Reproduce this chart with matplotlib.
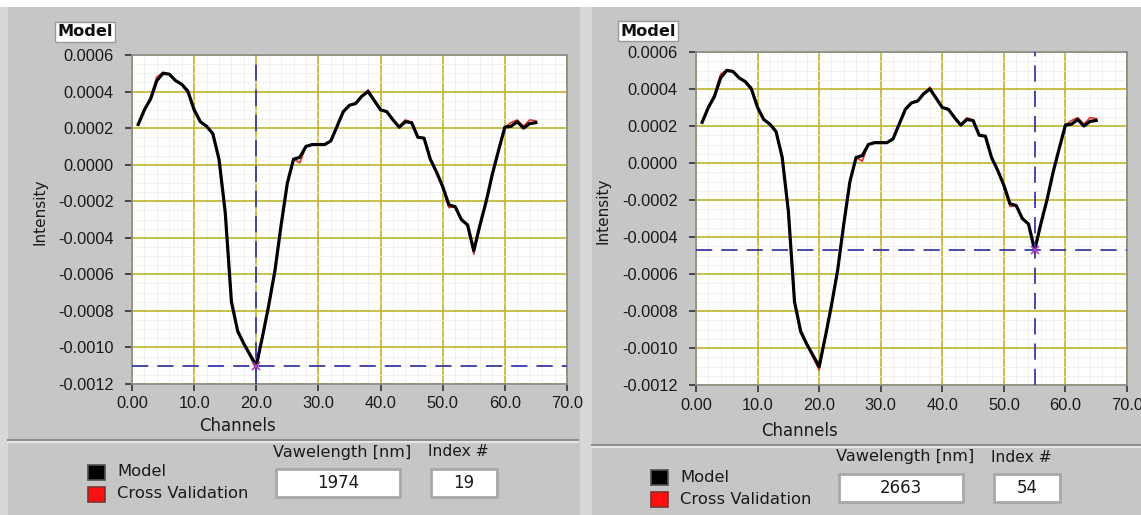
import matplotlib
matplotlib.use("Agg")
import matplotlib.pyplot as plt
from matplotlib.patches import Rectangle
import numpy as np

# channel axis and the two traces (values in 1e-4 intensity units)
channels = list(range(1, 66))
model = [2.2, 3.0, 3.6, 4.6, 5.0, 4.95, 4.6, 4.4, 4.0, 3.0,
         2.35, 2.1, 1.7, 0.3, -2.6, -7.5, -9.1, -9.8, -10.4, -11.0,
         -9.4, -7.7, -5.8, -3.3, -1.0, 0.3, 0.4, 1.0, 1.1, 1.1,
         1.1, 1.3, 2.1, 2.9, 3.25, 3.35, 3.75, 4.0, 3.5, 3.0,
         2.9, 2.45, 2.05, 2.35, 2.3, 1.5, 1.45, 0.3, -0.4, -1.2,
         -2.2, -2.3, -3.0, -3.3, -4.7, -3.3, -2.0, -0.5, 0.8, 2.05,
         2.1, 2.35, 2.0, 2.25, 2.3]
cross_val = [2.2, 3.0, 3.7, 4.8, 5.05, 4.95, 4.6, 4.4, 4.1, 3.0,
             2.35, 2.1, 1.7, 0.3, -2.6, -7.5, -9.2, -9.8, -10.5, -11.2,
             -9.4, -7.7, -5.8, -3.3, -1.0, 0.3, 0.1, 1.0, 1.1, 1.1,
             1.1, 1.3, 2.1, 2.9, 3.25, 3.35, 3.75, 4.1, 3.5, 3.0,
             2.9, 2.45, 2.1, 2.45, 2.3, 1.5, 1.45, 0.3, -0.4, -1.3,
             -2.35, -2.3, -3.0, -3.3, -4.9, -3.3, -2.0, -0.5, 0.8, 2.05,
             2.3, 2.45, 2.1, 2.45, 2.4]

x_ticks = [0, 10, 20, 30, 40, 50, 60, 70]
x_labels = ["0.00", "10.0", "20.0", "30.0", "40.0", "50.0", "60.0", "70.0"]
y_ticks = [0.0006, 0.0004, 0.0002, 0.0, -0.0002, -0.0004, -0.0006,
           -0.0008, -0.0010, -0.0012]
y_labels = ["0.0006", "0.0004", "0.0002", "0.0000", "-0.0002", "-0.0004",
            "-0.0006", "-0.0008", "-0.0010", "-0.0012"]

cursor_index = [19, 54]
wavelengths = [1974, 2663]

W, H = 1141, 515
GRAY = "#c6c6c6"
GRID = "#bdb52a"
CURSOR = "#3a3aa8"
TXT = "#1a1a1a"

fig = plt.figure(figsize=(W / 100, H / 100), dpi=100, facecolor=GRAY)

# background layer in pixel coordinates for the panel decorations
bg = fig.add_axes([0, 0, 1, 1], zorder=0)
bg.set_xlim(0, W)
bg.set_ylim(H, 0)
bg.axis("off")

bg.add_patch(Rectangle((0, 0), W, 7, color="white", lw=0))
bg.add_patch(Rectangle((0, 7), 8, H, color="#d8d8d8", lw=0))
bg.add_patch(Rectangle((580, 7), 12, H, color="#d8d8d8", lw=0))

panels = [
    dict(box=(132, 55, 567, 384), dx=0, dy=0, sep=440, sx=(8, 578)),
    dict(box=(696, 52, 1127, 385), dx=563, dy=5, sep=445, sx=(592, W)),
]

xs = np.array(channels)
m = np.array(model) * 1e-4
cv = np.array(cross_val) * 1e-4

for i, p in enumerate(panels):
    l, t, r, b = p["box"]
    ax = fig.add_axes([l / W, 1 - b / H, (r - l) / W, (b - t) / H], zorder=1)
    ax.set_facecolor("white")
    ax.set_xlim(0, 70)
    ax.set_ylim(-0.0012, 0.0006)

    ax.set_xticks(np.arange(0, 71, 2), minor=True)
    ax.set_yticks(np.arange(-0.0012, 0.00061, 0.00005), minor=True)
    ax.grid(which="minor", color="#eeeeee", lw=0.6)
    ax.grid(which="major", color=GRID, lw=1.2)
    ax.set_xticks(x_ticks, x_labels)
    ax.set_yticks(y_ticks, y_labels)
    ax.tick_params(which="minor", length=0)
    ax.tick_params(which="major", direction="out", length=5, width=1.2,
                   color="#303030", labelsize=11.8, labelcolor=TXT)
    ax.tick_params(axis="y", pad=8)
    ax.tick_params(axis="x", pad=4)
    for lab in ax.get_xticklabels() + ax.get_yticklabels():
        lab.set_family("Liberation Sans")
    for s in ax.spines.values():
        s.set_color("#8a8a8a")
        s.set_linewidth(1.2)

    ax.plot(xs, cv, color="#e03030", lw=1.2, zorder=3)
    ax.plot(xs, m, color="black", lw=2.3, zorder=4)

    ci = cursor_index[i]
    cx, cy = channels[ci], model[ci] * 1e-4
    ax.axvline(cx, color=CURSOR, lw=1.3, ls=(0, (9, 5)), zorder=5)
    ax.axhline(cy, color=CURSOR, lw=1.3, ls=(0, (9, 5)), zorder=5)
    ax.plot([cx], [cy], marker="x", color="#b040c0", ms=6, mew=1.2, zorder=6)

    dx, dy = p["dx"], p["dy"]

    # plot name tag
    tag_y = 22 - (1 if i else 0)
    bg.add_patch(Rectangle((55 + dx, tag_y), 60, 20, facecolor="white",
                           edgecolor="#9a9a9a", lw=1))
    bg.text(85 + dx, tag_y + 10, "Model", ha="center", va="center",
            fontsize=11.6, fontweight="bold", color="#101010")

    # axis titles
    bg.text(40 + dx, (t + b) / 2 - 8, "Intensity", rotation=90, ha="center",
            va="center", fontsize=11, color=TXT)
    bg.text(237 + dx, 426 + dy, "Channels", ha="center", va="center",
            fontsize=12, color=TXT)

    # separator between graph and controls
    x0, x1 = p["sx"]
    bg.plot([x0, x1], [p["sep"], p["sep"]], color="#8c8c8c", lw=1.5)
    bg.plot([x0, x1], [p["sep"] + 2, p["sep"] + 2], color="#e6e6e6", lw=1.5)

    # legend
    bg.add_patch(Rectangle((88 + dx, 465 + dy), 17, 15, facecolor="black",
                           edgecolor="#505050", lw=1.2))
    bg.add_patch(Rectangle((88 + dx, 487 + dy), 17, 15, facecolor="#ff1010",
                           edgecolor="#803030", lw=1.2))
    bg.text(117 + dx, 472 + dy, "Model", va="center", fontsize=11.8,
            color=TXT)
    bg.text(117 + dx, 494 + dy, "Cross Validation", va="center",
            fontsize=11.8, color=TXT)

    # indicator boxes
    bg.text(273 + dx, 452 + dy, "Vawelength [nm]", va="center",
            fontsize=11.6, color=TXT)
    bg.text(428 + dx, 452 + dy, "Index #", va="center", fontsize=11.2,
            color=TXT)
    bg.add_patch(Rectangle((276 + dx, 469 + dy), 124, 28, facecolor="white",
                           edgecolor="#a8a8a8", lw=2))
    bg.add_patch(Rectangle((431 + dx, 469 + dy), 66, 28, facecolor="white",
                           edgecolor="#a8a8a8", lw=2))
    bg.text(338 + dx, 483 + dy, str(wavelengths[i]), ha="center", va="center",
            fontsize=12, color=TXT)
    bg.text(464 + dx, 483 + dy, str(ci), ha="center", va="center",
            fontsize=12, color=TXT)

fig.savefig("out.png", dpi=100, facecolor=GRAY)
